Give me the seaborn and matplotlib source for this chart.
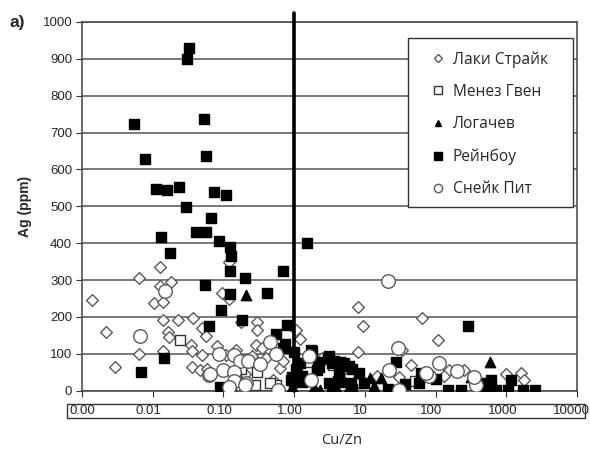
import numpy as np
import pandas as pd
import matplotlib
matplotlib.use("Agg")
import matplotlib.pyplot as plt
import matplotlib.transforms as mtransforms
from matplotlib.lines import Line2D
from matplotlib.patches import Rectangle
import seaborn as sns

sns.set_style("white")
plt.rcParams["font.family"] = ["Liberation Sans", "DejaVu Sans"]

# Cu/Zn ratio and Ag (ppm), one pair of lists per vent field
lucky_x = [0.0014, 0.0022, 0.0029, 0.0065, 0.0063, 0.0125, 0.018, 0.0103, 0.0125, 0.0139,
           0.0139, 0.0228, 0.0367, 0.0162, 0.014, 0.049, 0.057, 0.017, 0.035, 0.036,
           0.050, 0.036, 0.047, 0.059, 0.094, 0.12, 0.12, 0.30, 0.30, 0.29,
           0.35, 0.18, 0.09, 0.11, 0.64, 0.205, 1.05, 7.9, 9.3, 64,
           107, 7.9, 1633, 1800, 33, 155, 30, 1000, 0.08, 0.15,
           0.25, 0.4, 0.7, 0.2, 0.5, 1.2, 2.5, 5, 15, 45,
           60, 130, 250]
lucky_y = [246, 160, 65, 305, 100, 336, 296, 237, 283, 240,
           192, 192, 196, 160, 109, 169, 148, 147, 125, 107,
           97, 64, 55, 58, 264, 250, 350, 185, 165, 125,
           115, 185, 100, 97, 62, 2, 165, 226, 176, 196,
           137, 106, 49, 30, 110, 57, 38, 45, 120, 110,
           95, 90, 80, 45, 30, 140, 90, 60, 40, 70,
           30, 40, 55]

menez_x = [0.0245, 0.128, 0.18, 0.30, 0.28, 0.56, 3.0, 3.5, 52, 0.15, 1.5, 8, 0.45]
menez_y = [137, 3, 60, 50, 15, 15, 85, 70, 25, 40, 50, 20, 20]

logachev_x = [0.21, 581, 1.0, 2.3, 16.8, 315, 12, 0.94, 1.9, 3.9, 6.0, 13.4]
logachev_y = [260, 79, 2, 2, 35, 38, 35, 10, 10, 10, 10, 12]

rainbow_x = [0.0326, 0.031, 0.0054, 0.053, 0.0077, 0.056, 0.0112, 0.0161, 0.0236, 0.074,
             0.110, 0.030, 0.067, 0.0132, 0.041, 0.057, 0.0177, 0.086, 0.123, 0.129,
             0.123, 0.054, 0.200, 0.125, 0.41, 0.70, 0.091, 0.184, 0.063, 0.78,
             0.0146, 0.0069, 0.088, 0.55, 0.75, 0.70, 1.0, 0.9, 1.50, 286,
             149, 230, 493, 721, 1057, 1725, 2518, 27.5, 21, 3.4,
             6.6, 62, 58, 102, 612, 1175, 420, 1.77, 3.1, 3.7,
             2.2, 4.5, 6.0, 8.3, 9.8, 4.4, 1.31, 1.05, 1.0, 37.5,
             1.72, 1.2, 3.4, 3.0, 5.1, 4.3, 2.26, 6.6, 1.3, 0.92,
             3.1, 4.2, 6.3, 2.1]
rainbow_y = [930, 900, 723, 737, 629, 637, 547, 544, 552, 540,
             532, 499, 468, 416, 430, 430, 374, 407, 391, 366,
             325, 287, 307, 262, 264, 325, 219, 192, 176, 178,
             90, 50, 11, 153, 128, 115, 105, 30, 401, 176,
             3, 3, 3, 3, 3, 3, 3, 77, 5, 5,
             5, 49, 22, 32, 28, 28, 22, 108, 95, 80,
             77, 77, 68, 49, 22, 23, 23, 60, 23, 17,
             110, 75, 74, 88, 74, 52, 65, 58, 40, 38,
             20, 27, 22, 56]

snake_x = [0.0067, 0.0147, 0.086, 0.139, 0.17, 0.22, 0.10, 0.14, 0.062, 0.14,
           0.21, 0.33, 0.45, 0.56, 0.6, 21, 29, 1.6, 1.75, 112,
           200, 370, 30, 80, 73, 22, 350, 0.12, 0.2, 0.065]
snake_y = [149, 271, 100, 97, 80, 80, 57, 50, 42, 25,
           22, 72, 131, 100, 3, 298, 115, 94, 30, 75,
           53, 15, 3, 40, 48, 57, 36, 10, 15, 45]

sites = ["Лаки Страйк", "Менез Гвен", "Логачев", "Рейнбоу", "Снейк Пит"]
xs = [lucky_x, menez_x, logachev_x, rainbow_x, snake_x]
ys = [lucky_y, menez_y, logachev_y, rainbow_y, snake_y]

xtick_vals = [0.001, 0.01, 0.1, 1, 10, 100, 1000, 10000]
xtick_labels = ["0.00", "0.01", "0.10", "1.00", "10", "100", "1000", "10000"]

df = pd.concat([pd.DataFrame({"cu_zn": x, "ag": y, "site": s})
                for s, x, y in zip(sites, xs, ys)], ignore_index=True)

# marker, face, edge, size (pt^2) per site
STYLES = {
    "Лаки Страйк": dict(marker="D", fc="white", ec="#5a5a5a", s=36, ms=4.5),
    "Менез Гвен":  dict(marker="s", fc="white", ec="#333333", s=62, ms=6),
    "Логачев":     dict(marker="^", fc="black", ec="black", s=55, ms=5),
    "Рейнбоу":     dict(marker="s", fc="black", ec="black", s=62, ms=5.5),
    "Снейк Пит":   dict(marker="o", fc="white", ec="#5a5a5a", s=95, ms=6),
}

W, H = 590, 451
fig = plt.figure(figsize=(W / 100, H / 100), dpi=100)
ax = fig.add_axes([82 / W, 1 - 390.7 / H, (577 - 82) / W, (390.7 - 22) / H])

for site in sites:
    st = STYLES[site]
    sns.scatterplot(data=df[df["site"] == site], x="cu_zn", y="ag", ax=ax,
                    marker=st["marker"], color=st["fc"], edgecolor=st["ec"],
                    s=st["s"], linewidth=1.0, zorder=3, legend=False)

ax.set_xscale("log")
ax.set_xlim(0.001, 10000)
ax.set_ylim(0, 1000)
ax.set_yticks(np.arange(0, 1001, 100))
ax.set_xticks(xtick_vals)
ax.minorticks_off()
ax.tick_params(axis="x", which="major", direction="out", length=4, color="#333333",
               labelbottom=False, bottom=True)
ax.tick_params(axis="y", direction="out", length=4, color="#333333", labelsize=9.5,
               left=True, pad=3)
ax.grid(axis="y", color="#555555", linewidth=1.1, zorder=0)
ax.grid(axis="x", visible=False)
for side in ["left", "right", "bottom", "top"]:
    ax.spines[side].set_color("#444444")
    ax.spines[side].set_linewidth(1.1)
ax.set_xlabel("")
ax.set_ylabel("Ag (ppm)", fontsize=10, fontweight="bold", labelpad=8)

# heavy line at Cu/Zn = 1, running slightly above the frame
ax.plot([1, 1], [0, 1025], color="black", linewidth=2.6, zorder=4, clip_on=False)

# x tick labels inside a framed strip below the axis (Excel style, nudged left)
label_y = -(411 - 390.7) / (390.7 - 22)
for i, (v, lab) in enumerate(zip(xtick_vals, xtick_labels)):
    dx = 0 if i == 0 else (-6 if i == len(xtick_vals) - 1 else -4)
    shift = mtransforms.ScaledTranslation(dx / 100, 0, fig.dpi_scale_trans)
    ax.text(v, label_y, lab, transform=ax.get_xaxis_transform() + shift,
            ha="center", va="center", fontsize=9.5)
fig.patches.append(Rectangle((67 / W, 1 - 418 / H), (585 - 67) / W, 14 / H,
                             transform=fig.transFigure, fill=False,
                             edgecolor="#333333", linewidth=1.0))

fig.text(342 / W, 1 - 441 / H, "Cu/Zn", ha="center", va="center", fontsize=10.5,
         family=["Open Sans", "DejaVu Sans"])
fig.text(10 / W, 1 - 23 / H, "а)", fontsize=12.5, fontweight="bold", va="center")

# legend: square frame drawn separately so the padding matches
ax.add_patch(Rectangle((408 / W, 1 - 207 / H), (573 - 408) / W, (207 - 38) / H,
                       transform=fig.transFigure, facecolor="white",
                       edgecolor="#333333", linewidth=1.0, zorder=5, clip_on=False))
handles = [Line2D([], [], linestyle="none", marker=STYLES[s]["marker"],
                  markerfacecolor=STYLES[s]["fc"], markeredgecolor=STYLES[s]["ec"],
                  markersize=STYLES[s]["ms"], markeredgewidth=1.0) for s in sites]
leg = ax.legend(handles, sites, loc="upper left",
                bbox_to_anchor=(430 / W, 1 - 51 / H), bbox_transform=fig.transFigure,
                frameon=False, handlelength=1.0, handletextpad=0.45, labelspacing=1.05,
                borderpad=0, borderaxespad=0,
                prop={"family": ["Open Sans", "DejaVu Sans"], "size": 11.2})
leg.set_zorder(6)

fig.savefig("out.png", dpi=100)
